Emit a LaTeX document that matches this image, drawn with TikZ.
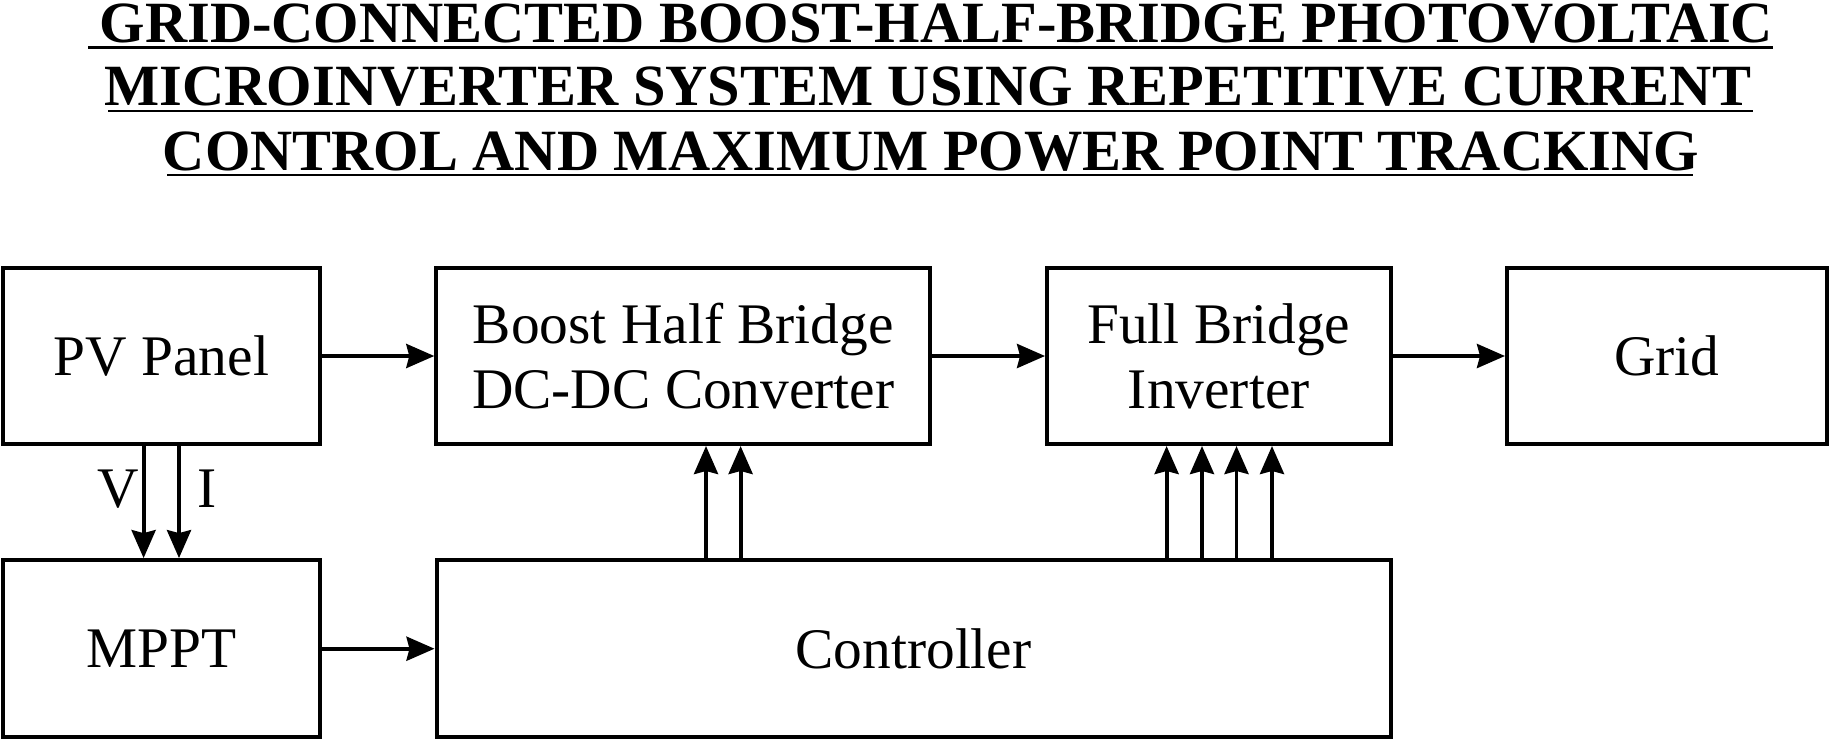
\documentclass[tikz,border=0pt]{standalone}
\usepackage{fontspec}
\setmainfont{Liberation Serif}
\usetikzlibrary{arrows.meta}
\begin{document}
\begin{tikzpicture}[x=0.5pt,y=-0.5pt,
  box/.style={draw, line width=2pt, inner sep=0pt, align=center,
    font=\fontsize{28.7}{32.5}\selectfont},
  conn/.style={line width=1.9pt, -{Stealth[length=14pt,width=12pt,inset=1.5pt]}},
  ttl/.style={inner sep=0pt, anchor=base, font=\bfseries\fontsize{29.2}{32}\selectfont},
  uline/.style={line width=1.3pt},
  lbl/.style={inner sep=0pt, font=\fontsize{28.7}{32.5}\selectfont}]
\useasboundingbox (0,0) rectangle (1829,740);

% title
\node[ttl] (t1) at (936.5,42) {GRID-CONNECTED BOOST-HALF-BRIDGE PHOTOVOLTAIC};
\node[ttl] (t2) at (928,105) {MICROINVERTER SYSTEM USING REPETITIVE CURRENT};
\node[ttl] (t3) at (931,170) {CONTROL AND MAXIMUM POWER POINT TRACKING};
\draw[uline] (88,47.5) -- (1773,47.5);
\draw[uline] (108,111) -- (1753,111);
\draw[uline] (167,175) -- (1693,175);

% boxes
\node[box, minimum width=158.5pt, minimum height=88pt] (pv) at (161.5,356) {PV Panel};
\node[box, minimum width=247pt, minimum height=88pt] (boost) at (683.3,356) {Boost Half Bridge\\DC-DC Converter};
\node[box, minimum width=171.75pt, minimum height=88pt] (fb) at (1218.8,356) {Full Bridge\\Inverter};
\node[box, minimum width=160pt, minimum height=88pt] (grid) at (1667,356) {Grid};
\node[box, minimum width=158.5pt, minimum height=88.6pt] (mppt) at (161.5,648.7) {MPPT};
\node[box, minimum width=477pt, minimum height=88.6pt] (ctrl) at (913.5,648.7) {Controller};

% horizontal connectors
\draw[conn] (pv.east) -- (boost.west);
\draw[conn] (boost.east) -- (fb.west);
\draw[conn] (fb.east) -- (grid.west);
\draw[conn] (mppt.east) -- (ctrl.west);

% V, I
\coordinate (cv) at (143.6,0);
\coordinate (ci) at (179,0);
\draw[conn] (cv |- pv.south) -- (cv |- mppt.north);
\draw[conn] (ci |- pv.south) -- (ci |- mppt.north);
\node[lbl] (lv) at (118,489) {V};
\node[lbl] (li) at (207.5,489) {I};

% controller to boost
\coordinate (b1) at (706,0);
\coordinate (b2) at (740.6,0);
\draw[conn] (b1 |- ctrl.north) -- (b1 |- boost.south);
\draw[conn] (b2 |- ctrl.north) -- (b2 |- boost.south);

% controller to full bridge
\coordinate (f1) at (1166.6,0);
\coordinate (f2) at (1202,0);
\coordinate (f3) at (1236.5,0);
\coordinate (f4) at (1272,0);
\draw[conn] (f1 |- ctrl.north) -- (f1 |- fb.south);
\draw[conn] (f2 |- ctrl.north) -- (f2 |- fb.south);
\draw[conn] (f3 |- ctrl.north) -- (f3 |- fb.south);
\draw[conn] (f4 |- ctrl.north) -- (f4 |- fb.south);
\end{tikzpicture}
\end{document}
